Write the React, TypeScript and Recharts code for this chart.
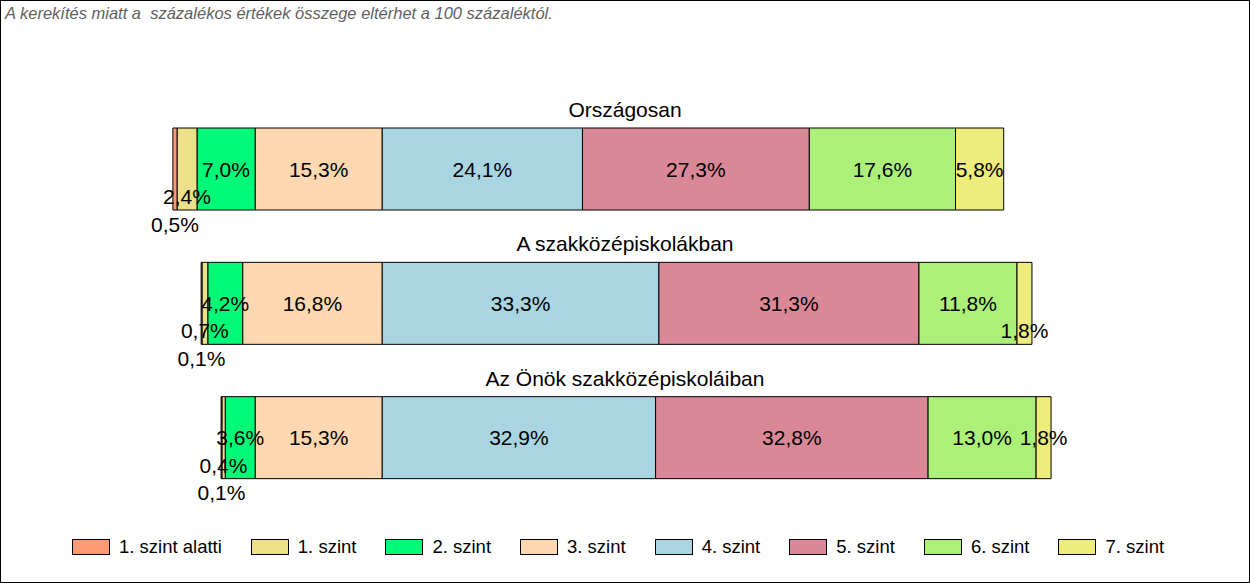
import React from "react";
import { BarChart, Bar, XAxis, YAxis, LabelList } from "recharts";

const categories = ["Országosan", "A szakközépiskolákban", "Az Önök szakközépiskoláiban"];

const levelKeys = ["below", "l1", "l2", "l3", "l4", "l5", "l6", "l7"];
const levelNames = ["1. szint alatti", "1. szint", "2. szint", "3. szint", "4. szint", "5. szint", "6. szint", "7. szint"];
const levelColors = ["#FF9A74", "#EDE088", "#00FA78", "#FFD7B0", "#A9D5E3", "#DA8898", "#ACF07A", "#EEEC7C"];

// percentages per row (Országosan, szakközépiskolák, Önök)
const belowLevel1 = [0.5, 0.1, 0.1];
const level1 = [2.4, 0.7, 0.4];
const level2 = [7.0, 4.2, 3.6];
const level3 = [15.3, 16.8, 15.3];
const level4 = [24.1, 33.3, 32.9];
const level5 = [27.3, 31.3, 32.8];
const level6 = [17.6, 11.8, 13.0];
const level7 = [5.8, 1.8, 1.8];

const seriesValues: Record<string, number[]> = {
  below: belowLevel1, l1: level1, l2: level2, l3: level3,
  l4: level4, l5: level5, l6: level6, l7: level7,
};

// levels below 4 go to the left of the 3/4 boundary
const leftKeys = ["below", "l1", "l2", "l3"];

const rows = categories.map((name, i) => {
  const row: any = { name };
  levelKeys.forEach(k => {
    const v = seriesValues[k][i];
    row[k] = leftKeys.includes(k) ? -v : v;
  });
  return row;
});

const FONT = "'Liberation Sans', Arial, sans-serif";

const fmt = (v: number) => v.toFixed(1).replace(".", ",") + "%";

// Excel pushes crowded small labels down a line
function labelStep(key: string, row: number) {
  if (key === "below") return 2;
  if (key === "l1") return 1;
  if (key === "l7" && row === 1) return 1;
  return 0;
}

function boxOf(props: any) {
  const vb = props.viewBox || {};
  return {
    x: props.x ?? vb.x,
    y: props.y ?? vb.y,
    w: props.width ?? vb.width,
    h: props.height ?? vb.height,
  };
}

const makeLabel = (key: string) => (props: any) => {
  const { x, y, w, h } = boxOf(props);
  const idx = props.index;
  if (x == null || idx == null) return null;
  const cx = x + w / 2;
  const cy = y + h / 2 + labelStep(key, idx) * 27.5;
  return (
    <text x={cx} y={cy} dy={7.5} textAnchor="middle" fontSize={21} fontFamily={FONT} fill="#000">
      {fmt(seriesValues[key][idx])}
    </text>
  );
};

// row title above each bar, centred on the chart
const titleLabel = (props: any) => {
  const { y, h } = boxOf(props);
  const idx = props.index;
  if (y == null || idx == null) return null;
  const cy = y + h / 2;
  return (
    <text x={624} y={cy - 52} textAnchor="middle" fontSize={21} fontFamily={FONT} fill="#000">
      {categories[idx]}
    </text>
  );
};

// stacking order: left side nearest zero first
const drawOrder = ["l3", "l2", "l1", "below", "l4", "l5", "l6", "l7"];

export default function App() {
  return (
    <div
      style={{
        position: "absolute", left: 0, top: 0, width: 1250, height: 583,
        boxSizing: "border-box", border: "1px solid #000", background: "#fff",
        fontFamily: FONT,
      }}
    >
      <div style={{ position: "absolute", left: 4, top: 3, fontSize: 16.5, fontStyle: "italic", color: "#5f5f5f", whiteSpace: "pre" }}>
        A kerekítés miatt a  százalékos értékek összege eltérhet a 100 százaléktól.
      </div>
      <div style={{ position: "absolute", left: 0, top: 0 }}>
        <BarChart
          width={1248}
          height={581}
          data={rows}
          layout="vertical"
          stackOffset="sign"
          margin={{ top: 101, right: 119, bottom: 77, left: 132 }}
        >
          <XAxis type="number" hide domain={[-30, 90]} allowDataOverflow />
          <YAxis type="category" dataKey="name" hide width={0} />
          {drawOrder.map(k => {
            const i = levelKeys.indexOf(k);
            return (
              <Bar
                key={k}
                dataKey={k}
                stackId="a"
                barSize={82}
                fill={levelColors[i]}
                stroke="#000"
                strokeWidth={1}
                isAnimationActive={false}
              >
                <LabelList dataKey={k} content={makeLabel(k)} />
                {k === "l4" && <LabelList dataKey={k} content={titleLabel} />}
              </Bar>
            );
          })}
        </BarChart>
      </div>
      <div style={{ position: "absolute", left: 71, top: 535, display: "flex", alignItems: "center", gap: 29, fontSize: 18.5, color: "#000" }}>
        {levelNames.map((n, i) => (
          <div key={n} style={{ display: "flex", alignItems: "center" }}>
            <span style={{ display: "inline-block", width: 38, height: 16, boxSizing: "border-box", border: "1px solid #000", background: levelColors[i], marginRight: 9 }} />
            <span>{n}</span>
          </div>
        ))}
      </div>
    </div>
  );
}
